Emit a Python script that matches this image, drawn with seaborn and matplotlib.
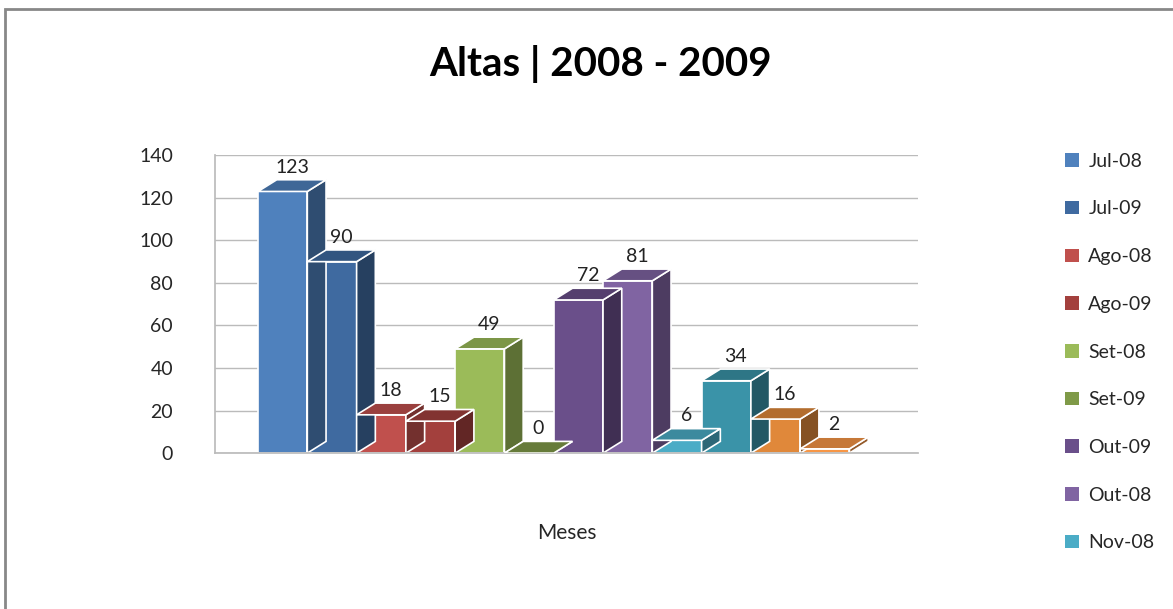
import matplotlib
matplotlib.use("Agg")
from matplotlib import pyplot as plt
from matplotlib.patches import Polygon, Patch, Rectangle
from matplotlib.colors import to_rgb
import seaborn as sns

# Data
meses = ["Jul-08", "Jul-09", "Ago-08", "Ago-09", "Set-08", "Set-09",
         "Out-09", "Out-08", "Nov-08", "Nov-09", "Dez-08", "Dez-09"]
altas = [123, 90, 18, 15, 49, 0, 72, 81, 6, 34, 16, 2]
cores = ["#4F81BD", "#3F6AA0", "#C0504D", "#A3403D", "#9BBB59", "#7F9A48",
         "#6A4F8A", "#8064A2", "#4BACC6", "#3A93A8", "#E0883A", "#F79646"]
y_ticks = [0, 20, 40, 60, 80, 100, 120, 140]
# the legend in the picture is cut by the frame after Nov-08
legend_visivel = 9

sns.set_theme(style="white")
plt.rcParams["font.family"] = ["Lato", "DejaVu Sans"]

fig = plt.figure(figsize=(11.73, 6.09), dpi=100)
ax = fig.add_axes([0.183, 0.256, 0.6, 0.489])

ax = sns.barplot(x=meses, y=altas, hue=meses, palette=cores, legend=False, saturation=1,
                 width=1.0, edgecolor="white", linewidth=1.2, ax=ax)


def darker(c, f):
    r, g, b = to_rgb(c)
    return (r * f, g * f, b * f)


# pseudo 3D faces built from the bar geometry
depth_x = 0.38
depth_y = 5.5
for p, c, v in zip(ax.patches, cores, altas):
    x0, w, h = p.get_x(), p.get_width(), p.get_height()
    top = Polygon([(x0, h), (x0 + depth_x, h + depth_y), (x0 + w + depth_x, h + depth_y), (x0 + w, h)],
                  closed=True, facecolor=darker(c, 0.8), edgecolor="white", linewidth=1.2, zorder=3)
    side = Polygon([(x0 + w, 0), (x0 + w + depth_x, depth_y), (x0 + w + depth_x, h + depth_y), (x0 + w, h)],
                   closed=True, facecolor=darker(c, 0.6), edgecolor="white", linewidth=1.2, zorder=2)
    ax.add_patch(side)
    ax.add_patch(top)
    ax.text(x0 + w / 2 + depth_x / 2, h + depth_y + 2, f"{v}", ha="center", va="bottom",
            fontsize=14, color="#222222")

ax.set_ylim(0, 140)
ax.set_xlim(-1.38, 12.9)
ax.set_yticks(y_ticks)
ax.set_yticklabels([str(t) for t in y_ticks], fontsize=14)
ax.tick_params(axis="y", pad=30, length=0)
ax.set_xticks([])
ax.yaxis.grid(True, color="#BBBBBB", linewidth=1)
ax.set_axisbelow(True)
for s in ["top", "right"]:
    ax.spines[s].set_visible(False)
ax.spines["left"].set_color("#BBBBBB")
ax.spines["bottom"].set_color("#BBBBBB")
ax.set_xlabel("Meses", fontsize=15, labelpad=50)
ax.set_ylabel("")

fig.text(0.512, 0.895, "Altas | 2008 - 2009", ha="center", va="center",
         fontsize=29, fontweight="bold", color="black")

handles = [Patch(facecolor=c, edgecolor="none") for c in cores[:legend_visivel]]
fig.legend(handles, meses[:legend_visivel], loc="upper left", bbox_to_anchor=(0.893, 0.778),
           frameon=False, fontsize=14, handlelength=0.7, handleheight=0.7,
           handletextpad=0.5, labelspacing=1.58)

# outer chart border
fig.patches.append(Rectangle((0.004, -0.1), 1.2, 1.085, transform=fig.transFigure,
                             fill=False, edgecolor="#888888", linewidth=2))

fig.savefig("out.png", dpi=100)
